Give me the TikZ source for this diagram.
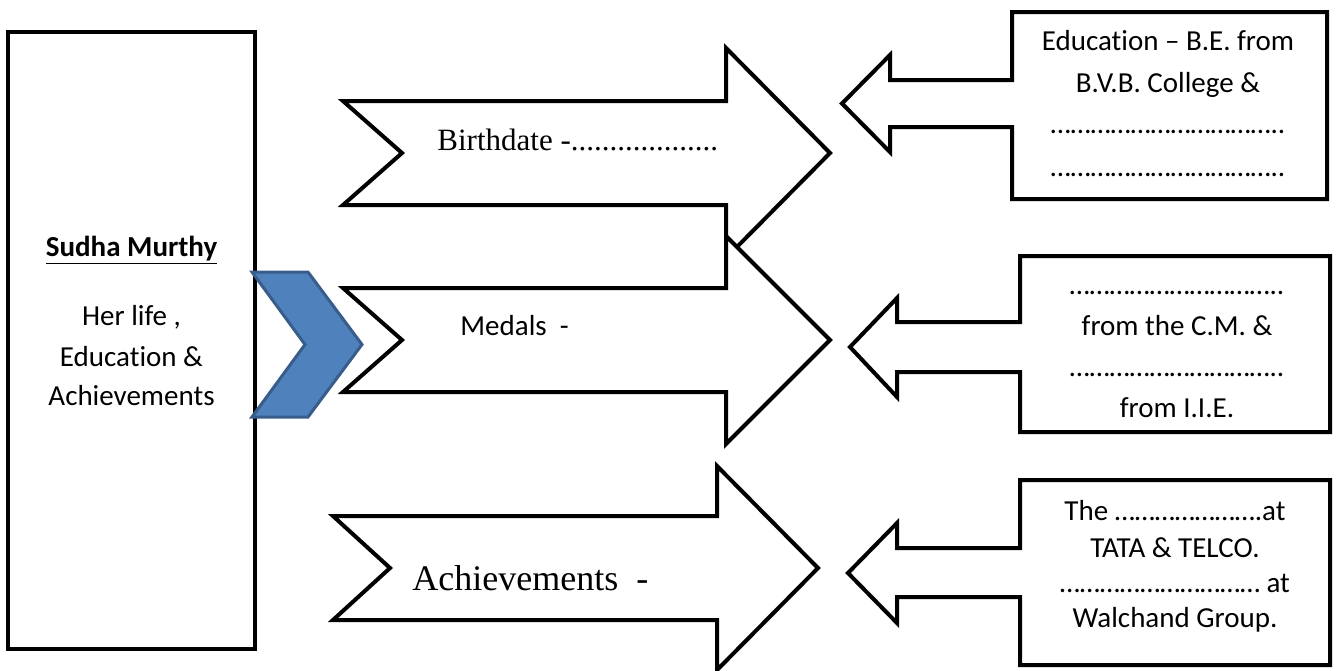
\documentclass[tikz,border=0pt]{standalone}
\usepackage{fontspec}
\setmainfont{Carlito}[Ligatures=NoCommon]
\newfontfamily\timesfont{Liberation Serif}
\usepackage{tikz}

\definecolor{chevronblue}{RGB}{79,129,189}
\definecolor{chevronedge}{RGB}{56,93,138}

\tikzset{outline/.style={draw=black, line width=2pt, fill=white, line join=miter},
         chevron/.style={draw=chevronedge, line width=1.5pt, fill=chevronblue, line join=miter},
         boxtext/.style={anchor=base, inner sep=0pt, font=\fontsize{14.5}{17}\selectfont},
         arrowtext/.style={anchor=base west, inner sep=0pt}}

\begin{document}
\begin{tikzpicture}[x=0.5pt, y=-0.5pt]
\useasboundingbox (0,0) rectangle (1336,670);
\clip (0,0) rectangle (1336,670);

% person box
\draw[outline] (8,32) rectangle (255,649);
\node[boxtext, font=\bfseries\fontsize{14.5}{17}\selectfont] (title) at (131.5,256) {\underline{Sudha Murthy}};
\node[boxtext] (life1) at (131.5,325) {Her life ,};
\node[boxtext] (life2) at (131.5,366) {Education \&};
\node[boxtext] (life3) at (131.5,405) {Achievements};

\draw[chevron] (252,272) -- (308,272) -- (362,344.5) -- (308,417) -- (252,417) -- (305,344.5) -- cycle;

% big arrows
\draw[outline] (343,101) -- (726,101) -- (726,48) -- (830,153) -- (726,258) -- (726,205) -- (343,205) -- (402,153) -- cycle;
\node[arrowtext, font=\timesfont\fontsize{15.5}{18}\selectfont] (birth) at (437,150) {Birthdate -...................};

\draw[outline] (343,288) -- (726,288) -- (726,236) -- (830,340) -- (726,444) -- (726,392) -- (343,392) -- (402,340) -- cycle;
\node[arrowtext, font=\fontsize{14.5}{17}\selectfont] (medals) at (460,335) {Medals~~-};

\draw[outline] (333,516) -- (717,516) -- (717,466) -- (818,568) -- (717,670) -- (717,620) -- (333,620) -- (390,568) -- cycle;
\node[arrowtext, font=\timesfont\fontsize{18}{21}\selectfont] (achv) at (412,590) {Achievements~~-};

% info callouts
\draw[outline] (1012,12) -- (1327,12) -- (1327,199) -- (1012,199) -- (1012,127) -- (890,127) -- (890,152) -- (842,103.5) -- (890,55) -- (890,80) -- (1012,80) -- cycle;
\node[boxtext] (edu1) at (1168,50) {Education – B.E. from};
\node[boxtext] (edu2) at (1168,92) {B.V.B. College \&};
\node[boxtext] (edu3) at (1168,133) {……………………………..};
\node[boxtext] (edu4) at (1168,176) {……………………………..};

\draw[outline] (1020,256) -- (1330,256) -- (1330,432) -- (1020,432) -- (1020,372) -- (897,372) -- (897,397) -- (850,347) -- (897,298) -- (897,322) -- (1020,322) -- cycle;
\node[boxtext] (med1) at (1177,294) {…………………………..};
\node[boxtext] (med2) at (1177,335) {from the C.M. \&};
\node[boxtext] (med3) at (1177,376) {…………………………..};
\node[boxtext] (med4) at (1177,417) {from I.I.E.};

\draw[outline] (1020,480) -- (1330,480) -- (1330,665) -- (1020,665) -- (1020,597) -- (897,597) -- (897,623) -- (848,573) -- (897,523) -- (897,548) -- (1020,548) -- cycle;
\node[boxtext] (job1) at (1175,520) {The ………………….at};
\node[boxtext] (job2) at (1175,557) {TATA \& TELCO.};
\node[boxtext] (job3) at (1175,592) {………………………… at};
\node[boxtext] (job4) at (1175,627) {Walchand Group.};
\end{tikzpicture}
\end{document}
